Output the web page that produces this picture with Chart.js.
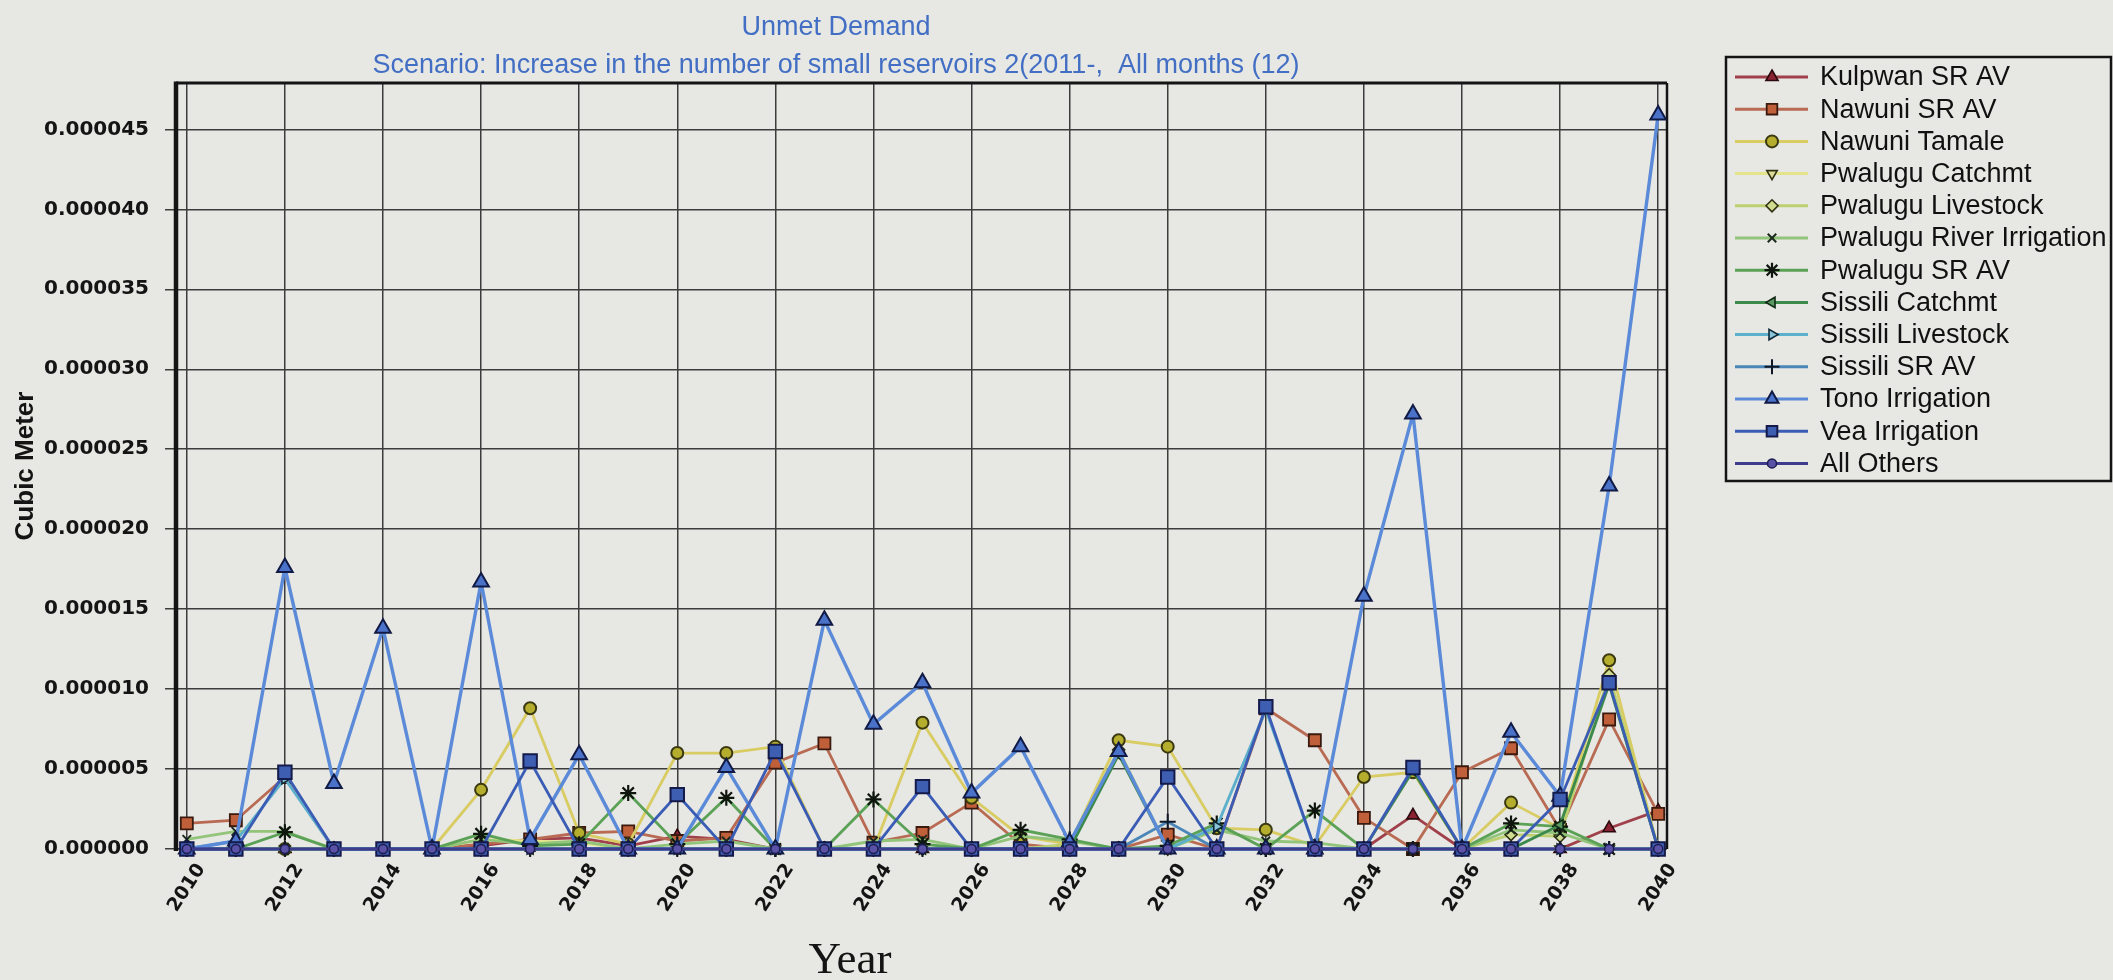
<!DOCTYPE html>
<html>
<head>
<meta charset="utf-8">
<title>Unmet Demand</title>
<script src="https://cdn.jsdelivr.net/npm/chart.js@4.4.1/dist/chart.umd.min.js"></script>
<style>
  html, body { margin: 0; padding: 0; background: #e7e7e4; }
  canvas { display: block; }
</style>
</head>
<body>
<canvas id="chart" width="2113" height="980"></canvas>
<script>
// ---- data (values in millionths of a cubic meter) ----
const UNIT = 1e-6;
const years = [2010, 2011, 2012, 2013, 2014, 2015, 2016, 2017, 2018, 2019, 2020,
               2021, 2022, 2023, 2024, 2025, 2026, 2027, 2028, 2029, 2030,
               2031, 2032, 2033, 2034, 2035, 2036, 2037, 2038, 2039, 2040];
const xTickYears = [2010, 2012, 2014, 2016, 2018, 2020, 2022, 2024, 2026, 2028,
                    2030, 2032, 2034, 2036, 2038, 2040];
const yTickValues = [0, 0.000005, 0.00001, 0.000015, 0.00002, 0.000025,
                     0.00003, 0.000035, 0.00004, 0.000045];

const seriesNames = ['Kulpwan SR AV', 'Nawuni SR AV', 'Nawuni Tamale', 'Pwalugu Catchmt',
  'Pwalugu Livestock', 'Pwalugu River Irrigation', 'Pwalugu SR AV', 'Sissili Catchmt',
  'Sissili Livestock', 'Sissili SR AV', 'Tono Irrigation', 'Vea Irrigation', 'All Others'];

const kulpwanSrAv        = [0, 0, 0, 0, 0, 0, 0.2, 0.6, 0.7, 0.2, 0.8, 0.6, 0, 0, 0, 0, 0, 0, 0, 0, 0, 0, 0, 0, 0, 2.1, 0, 0, 0, 1.3, 2.4];
const nawuniSrAv         = [1.6, 1.8, 4.5, 0, 0, 0, 0.3, 0.6, 1.0, 1.1, 0.5, 0.7, 5.4, 6.6, 0.4, 1.0, 2.9, 0.3, 0, 0, 0.9, 0, 8.8, 6.8, 1.95, 0, 4.8, 6.3, 1.2, 8.1, 2.2];
const nawuniTamale       = [0, 0, 0, 0, 0, 0, 3.7, 8.8, 1.0, 0.3, 6.0, 6.0, 6.4, 0, 0, 7.9, 3.2, 0.8, 0.3, 6.8, 6.4, 1.3, 1.2, 0.2, 4.5, 4.8, 0, 2.9, 1.3, 11.8, 0];
const pwaluguCatchmt     = [0, 0, 0, 0, 0, 0, 0.6, 0.5, 0.4, 0, 0, 0, 0, 0, 0, 0, 0, 0, 0, 0, 0, 0, 0, 0, 0, 0, 0, 0, 0, 0, 0];
const pwaluguLivestock   = [0, 0, 0, 0, 0, 0, 0, 0, 0, 0, 0, 0, 0, 0, 0, 0, 0, 0, 0.3, 6.2, 0, 0, 0, 0, 0, 0, 0, 0.9, 0.8, 10.9, 0];
const pwaluguRiverIrrig  = [0.6, 1.1, 1.1, 0, 0, 0, 0.6, 0.3, 0.5, 0, 0.3, 0.5, 0, 0, 0.5, 0.6, 0, 0.8, 0.5, 0, 0, 1.2, 0.5, 0.4, 0, 0, 0, 1.2, 1.0, 0, 0];
const pwaluguSrAv        = [0, 0, 1.05, 0, 0, 0, 0.95, 0.2, 0.3, 3.5, 0.3, 3.2, 0, 0, 3.1, 0.3, 0, 1.2, 0.6, 0, 0.2, 1.6, 0, 2.4, 0, 0, 0, 1.6, 1.4, 0, 0];
const sissiliCatchmt     = [0, 0, 0, 0, 0, 0, 0, 0, 0, 0, 0, 0, 0, 0, 0, 0, 0, 0, 0, 5.9, 0, 0, 0, 0, 0, 4.9, 0, 0, 1.5, 10.3, 0];
const sissiliLivestock   = [0, 0.5, 4.4, 0, 0, 0, 0, 0, 0, 0, 0, 0, 0, 0, 0, 0, 0, 0, 0, 0, 0, 1.4, 8.7, 0, 0, 0, 0, 0, 0, 0, 0];
const sissiliSrAv        = [0, 0, 0, 0, 0, 0, 0, 0, 0, 0, 0, 0, 0, 0, 0, 0, 0, 0, 0, 0, 1.7, 0, 0, 0, 0, 0, 0, 0, 0, 0, 0];
const tonoIrrigation     = [0, 0.5, 17.6, 4.1, 13.8, 0, 16.7, 0.6, 5.9, 0, 0, 5.1, 0, 14.3, 7.8, 10.4, 3.5, 6.4, 0.4, 6.1, 0, 0, 0, 0, 15.8, 27.2, 0, 7.3, 3.3, 22.7, 45.9];
const veaIrrigation      = [0, 0, 4.8, 0, 0, 0, 0, 5.5, 0, 0, 3.4, 0, 6.1, 0, 0, 3.9, 0, 0, 0, 0, 4.5, 0, 8.9, 0, 0, 5.1, 0, 0, 3.1, 10.4, 0];
const allOthers          = [0, 0, 0, 0, 0, 0, 0, 0, 0, 0, 0, 0, 0, 0, 0, 0, 0, 0, 0, 0, 0, 0, 0, 0, 0, 0, 0, 0, 0, 0, 0];

const seriesValues = [kulpwanSrAv, nawuniSrAv, nawuniTamale, pwaluguCatchmt, pwaluguLivestock,
  pwaluguRiverIrrig, pwaluguSrAv, sissiliCatchmt, sissiliLivestock, sissiliSrAv,
  tonoIrrigation, veaIrrigation, allOthers];

// ---- look of each series ----
const seriesStyles = [
  { line: '#a0404a', fill: '#8b2232', edge: '#2b0a0e', shape: 'triangle', rot: 0,   r: 7,   bw: 1.6 },
  { line: '#b86a52', fill: '#c0603a', edge: '#3a1a0e', shape: 'rect',     rot: 0,   r: 8.5, bw: 1.8 },
  { line: '#d8cc62', fill: '#b5ad2e', edge: '#3a3810', shape: 'circle',   rot: 0,   r: 6,   bw: 2 },
  { line: '#e4e48a', fill: '#dcdc98', edge: '#303010', shape: 'triangle', rot: 180, r: 6,   bw: 1.6 },
  { line: '#bcd070', fill: '#d0dc90', edge: '#303010', shape: 'rectRot',  rot: 0,   r: 6,   bw: 1.6 },
  { line: '#92c47a', fill: '#92c47a', edge: '#1c2a1c', shape: 'crossRot', rot: 0,   r: 6,   bw: 2 },
  { line: '#5ca256', fill: '#5ca256', edge: '#0e160e', shape: 'star',     rot: 0,   r: 8,   bw: 2.2 },
  { line: '#3c8a4c', fill: '#5a9a60', edge: '#102a14', shape: 'triangle', rot: 270, r: 6,   bw: 1.6 },
  { line: '#5cb0cc', fill: '#88c4d8', edge: '#102838', shape: 'triangle', rot: 90,  r: 6,   bw: 1.6 },
  { line: '#4a86b8', fill: '#4a86b8', edge: '#101828', shape: 'cross',    rot: 0,   r: 8,   bw: 2 },
  { line: '#5a8ad8', fill: '#4a72c8', edge: '#101a44', shape: 'triangle', rot: 0,   r: 9,   bw: 2, lw: 3.4 },
  { line: '#3a5cb4', fill: '#3e5eb2', edge: '#141a4a', shape: 'rect',     rot: 0,   r: 9.5, bw: 2 },
  { line: '#3e3c8c', fill: '#5a52a6', edge: '#1c1c50', shape: 'circle',   rot: 0,   r: 4.5, bw: 1.5, lw: 3.2 }
];

const datasets = seriesNames.map((name, i) => {
  const st = seriesStyles[i];
  return {
    label: name,
    data: years.map((yr, j) => ({ x: yr, y: seriesValues[i][j] * UNIT })),
    borderColor: st.line,
    backgroundColor: st.fill,
    borderWidth: st.lw || 2.8,
    pointStyle: st.shape,
    pointRotation: st.rot,
    pointRadius: st.r,
    pointBackgroundColor: st.fill,
    pointBorderColor: st.edge,
    pointBorderWidth: st.bw,
    tension: 0,
    fill: false,
    clip: false,
    order: seriesNames.length - i   // later series are painted over earlier ones
  };
});

const FONT_SANS = '"Liberation Sans", Arial, sans-serif';
const FONT_TICK = '"DejaVu Sans", Verdana, sans-serif';
const FONT_SERIF = '"Liberation Serif", "Times New Roman", serif';

// page background, plot frame, titles, rotated year labels and the boxed legend
const decorations = {
  id: 'decorations',
  beforeDraw(chart) {
    const ctx = chart.ctx;
    ctx.save();
    ctx.fillStyle = '#e7e7e4';
    ctx.fillRect(0, 0, chart.width, chart.height);
    ctx.restore();
  },
  beforeDatasetsDraw(chart) {
    const { ctx, chartArea: a } = chart;
    ctx.save();
    ctx.strokeStyle = '#141414';
    ctx.lineWidth = 3;
    ctx.beginPath(); ctx.moveTo(a.left - 1, a.top); ctx.lineTo(a.right, a.top); ctx.stroke();
    ctx.lineWidth = 2.5;
    ctx.beginPath(); ctx.moveTo(a.right, a.top); ctx.lineTo(a.right, a.bottom); ctx.stroke();
    ctx.lineWidth = 4.5;
    ctx.beginPath(); ctx.moveTo(a.left - 1, a.top - 1.5); ctx.lineTo(a.left - 1, a.bottom + 2); ctx.stroke();
    ctx.restore();
  },
  afterDraw(chart) {
    const ctx = chart.ctx;
    const xs = chart.scales.x;
    ctx.save();

    // titles
    ctx.fillStyle = '#426fc4';
    ctx.textAlign = 'center';
    ctx.textBaseline = 'alphabetic';
    ctx.font = '27px ' + FONT_SANS;
    ctx.fillText('Unmet Demand', 836, 35);
    ctx.fillText('Scenario: Increase in the number of small reservoirs 2(2011-,  All months (12)', 836, 73);

    // year labels, rotated about their centres
    ctx.fillStyle = '#141414';
    ctx.font = 'bold 19px ' + FONT_TICK;
    ctx.textAlign = 'center';
    ctx.textBaseline = 'middle';
    xTickYears.forEach(yr => {
      const px = xs.getPixelForValue(yr);
      ctx.save();
      ctx.translate(px, 888);
      ctx.rotate(-57 * Math.PI / 180);
      ctx.fillText(String(yr), 0, 0);
      ctx.restore();
    });

    // x axis title
    ctx.font = '45px ' + FONT_SERIF;
    ctx.textBaseline = 'alphabetic';
    ctx.fillText('Year', 850, 973);

    // legend
    const box = { left: 1726, top: 57, right: 2111, bottom: 481 };
    ctx.strokeStyle = '#141414';
    ctx.lineWidth = 2.5;
    ctx.strokeRect(box.left, box.top, box.right - box.left, box.bottom - box.top);
    const rowTop = 77, rowGap = 32.2;
    ctx.font = '27px ' + FONT_SANS;
    ctx.textAlign = 'left';
    ctx.textBaseline = 'middle';
    chart.data.datasets.forEach((ds, i) => {
      const st = seriesStyles[i];
      const y = rowTop + i * rowGap;
      ctx.strokeStyle = st.line;
      ctx.lineWidth = 3;
      ctx.beginPath(); ctx.moveTo(1735, y); ctx.lineTo(1808, y); ctx.stroke();
      ctx.fillStyle = st.fill;
      ctx.strokeStyle = st.edge;
      ctx.lineWidth = st.bw;
      Chart.helpers.drawPoint(ctx, {
        pointStyle: st.shape, rotation: st.rot,
        radius: Math.min(st.r, 7.5), borderWidth: st.bw
      }, 1772, y);
      ctx.fillStyle = '#111111';
      ctx.fillText(ds.label, 1820, y + 1);
    });
    ctx.restore();
  }
};

new Chart(document.getElementById('chart'), {
  type: 'line',
  data: { datasets },
  options: {
    responsive: false,
    animation: false,
    devicePixelRatio: 1,
    layout: { padding: { top: 83, right: 446, bottom: 0, left: 0 } },
    plugins: {
      legend: { display: false },
      title: { display: false },
      tooltip: { enabled: false }
    },
    scales: {
      x: {
        type: 'linear',
        min: 2009.8,
        max: 2040.18,
        afterBuildTicks: s => { s.ticks = xTickYears.map(v => ({ value: v })); },
        afterFit: s => { s.height = 131; },
        ticks: { display: false },
        grid: { color: '#3c3c3c', lineWidth: 1.5, drawTicks: false },
        border: { display: false }
      },
      y: {
        type: 'linear',
        min: 0,
        max: 0.0000479,
        afterBuildTicks: s => { s.ticks = yTickValues.map(v => ({ value: v })); },
        afterFit: s => { s.width = 177; },
        ticks: {
          color: '#141414',
          padding: 16,
          font: { family: FONT_TICK, size: 20, weight: 'bold' },
          callback: v => Number(v).toFixed(6)
        },
        grid: { color: '#3c3c3c', lineWidth: 1.5, tickLength: 12 },
        border: { display: false },
        title: {
          display: true,
          text: 'Cubic Meter',
          color: '#141414',
          font: { family: FONT_SANS, size: 26, weight: 'bold' },
          padding: { top: 10, bottom: 0 }
        }
      }
    }
  },
  plugins: [decorations]
});
</script>
</body>
</html>
